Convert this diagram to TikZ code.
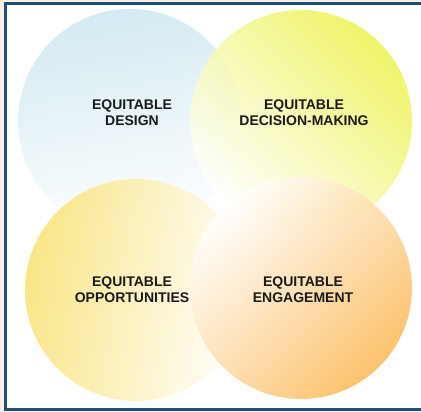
\documentclass[tikz,border=0pt]{standalone}
\usepackage{fontspec}
\setmainfont{Liberation Sans}
\definecolor{framebg}{HTML}{FBEFE6}
\definecolor{frameblue}{HTML}{1E4F7A}
\definecolor{dsgblue}{HTML}{CDE7F0}
\definecolor{decgreen}{HTML}{EDF350}
\definecolor{oppyellow}{HTML}{F9E272}
\definecolor{engorange}{HTML}{FBB955}
\definecolor{labeltext}{HTML}{1A1A1A}
\tikzset{
	label/.style={align=center, text=labeltext, font=\fontsize{14}{16}\selectfont\bfseries}
}
\begin{document}
\begin{tikzpicture}[x=1pt, y=1pt]
		\useasboundingbox (0,0) rectangle (421,412);
		\fill[framebg] (0,0) rectangle (421,412);
		\draw[frameblue, line width=3pt, fill=white] (5.5,2) rectangle (424,408.5);
		
		\foreach \cx/\cy/\r/\col/\ang in {130/291/112/dsgblue/10, 301/291/111/decgreen/-45, 136/122/111/oppyellow/80, 301/124/111/engorange/-135}{
			\shade[top color=\col, middle color=\col!55!white, bottom color=white, shading angle=\ang, fill opacity=0.85] (\cx,\cy) circle (\r);
		}
		
		\node[label] (design) at (132,299) {EQUITABLE\\DESIGN};
		\node[label] (decision) at (304,299) {EQUITABLE\\DECISION-MAKING};
		\node[label] (opportunities) at (132,122) {EQUITABLE\\OPPORTUNITIES};
		\node[label] (engagement) at (303,122) {EQUITABLE\\ENGAGEMENT};
		\end{tikzpicture}
\end{document}
